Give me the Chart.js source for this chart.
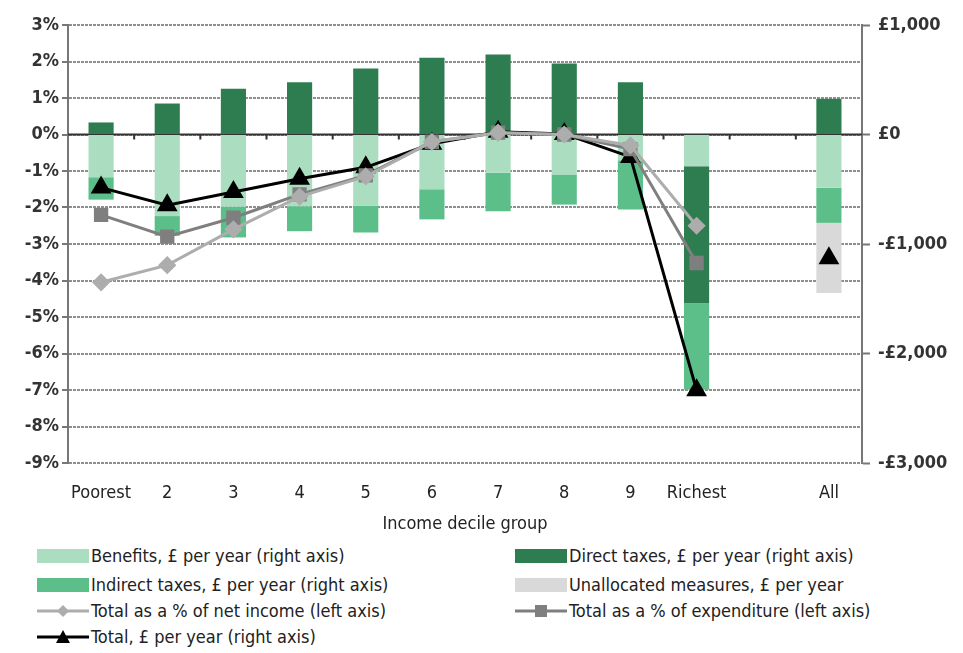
<!DOCTYPE html>
<html>
<head>
<meta charset="utf-8">
<script src="https://cdn.jsdelivr.net/npm/chart.js@4.4.0/dist/chart.umd.min.js"></script>
<style>
  body { margin: 0; background: #fff; width: 963px; height: 653px; overflow: hidden;
         font-family: 'Liberation Sans Narrow', 'DejaVu Sans Condensed', sans-serif; }
  #wrap { position: absolute; left: 0; top: 0; width: 963px; height: 545px; }
  .item { position: absolute; display: flex; align-items: center; font-size: 18px; color: #222; white-space: nowrap; line-height: 20px; }
  .item svg { margin-right: 2px; }
</style>
</head>
<body>
<div id="wrap"><canvas id="chart"></canvas></div>
<div id="legend"></div>
<script>
const categories = ['Poorest', '2', '3', '4', '5', '6', '7', '8', '9', 'Richest', '', 'All'];

// £ per year (right axis)
const benefits      = [-390, -745, -660, -655, -650, -500, -350, -365, -235, -290, null, -487];
const directTaxes   = [110, 283, 417, 478, 603, 700, 730, 648, 478, -1250, null, 326];
const indirectTaxes = [-205, -180, -280, -228, -245, -275, -350, -275, -450, -790, null, -320];
const unallocated   = [null, null, null, null, null, null, null, null, null, null, null, -640];
const totalPerYear  = [-485, -645, -525, -405, -300, -85, 25, 5, -205, -2335, null, -1130];

// % (left axis)
const pctNetIncome   = [-4.05, -3.58, -2.6, -1.7, -1.15, -0.2, 0.05, 0, -0.3, -2.5, null, null];
const pctExpenditure = [-2.2, -2.8, -2.28, -1.64, -1.12, -0.2, 0.05, 0, -0.4, -3.52, null, null];

const leftTicks = { min: -9, max: 3, step: 1 };
const rightTicks = { min: -3000, max: 1000, step: 1000 };

const font = "'Liberation Sans Narrow', 'DejaVu Sans Condensed', sans-serif";
Chart.defaults.font.family = font;
Chart.defaults.color = '#222';

const zeroLine = {
  id: 'zeroLine',
  beforeDatasetsDraw(chart) {
    const { ctx, chartArea: a, scales: { x, y } } = chart;
    const y0 = y.getPixelForValue(0);
    ctx.save();
    ctx.strokeStyle = '#333';
    ctx.lineWidth = 2;
    ctx.beginPath();
    ctx.moveTo(a.left, y0);
    ctx.lineTo(a.right, y0);
    for (let i = 1; i < categories.length; i++) {
      const xb = (x.getPixelForValue(i - 1) + x.getPixelForValue(i)) / 2;
      ctx.moveTo(xb, y0);
      ctx.lineTo(xb, y0 + 5);
    }
    ctx.stroke();
    ctx.restore();
  }
};

const bar = (label, data, color) => ({
  type: 'bar', label, data, backgroundColor: color, yAxisID: 'y1', stack: 'bars', order: 2,
  barPercentage: 0.38, categoryPercentage: 1, borderWidth: 0
});
const line = (label, data, color, style, radius, axis) => ({
  type: 'line', label, data, borderColor: color, backgroundColor: color, yAxisID: axis, order: 1,
  borderWidth: 3, pointStyle: style, pointRadius: radius, pointHoverRadius: radius, spanGaps: false, tension: 0
});

const chart = new Chart(document.getElementById('chart'), {
  data: {
    labels: categories,
    datasets: [
      bar('Benefits, £ per year (right axis)', benefits, '#abdec0'),
      bar('Direct taxes, £ per year (right axis)', directTaxes, '#2e7d50'),
      bar('Indirect taxes, £ per year (right axis)', indirectTaxes, '#5cbf89'),
      bar('Unallocated measures, £ per year', unallocated, '#d9d9d9'),
      line('Total as a % of net income (left axis)', pctNetIncome, '#adadad', 'rectRot', 7, 'y'),
      line('Total as a % of expenditure (left axis)', pctExpenditure, '#7f7f7f', 'rect', 8, 'y'),
      line('Total, £ per year (right axis)', totalPerYear, '#000000', 'triangle', 9, 'y1')
    ]
  },
  options: {
    responsive: true,
    maintainAspectRatio: false,
    animation: false,
    layout: { padding: { top: 25, bottom: 0, left: 0, right: 0 } },
    plugins: { legend: { display: false }, tooltip: { enabled: false } },
    scales: {
      x: {
        stacked: true,
        grid: { display: false, drawTicks: false },
        border: { display: false },
        ticks: { font: { size: 18 }, padding: 20, maxRotation: 0, autoSkip: false },
        title: { display: true, text: 'Income decile group', font: { size: 18 }, padding: { top: 0, bottom: 10 } },
        afterFit: s => { s.height = 82; }
      },
      y: {
        position: 'left',
        min: leftTicks.min, max: leftTicks.max,
        ticks: { stepSize: leftTicks.step, callback: v => v + '%', font: { size: 18, weight: 'bold' }, color: '#333', padding: 3 },
        grid: { color: '#8f8f8f', lineWidth: 2, tickLength: 6, tickColor: '#777', tickWidth: 2 },
        border: { display: true, color: '#777', width: 2, dash: [3, 1] },
        afterFit: s => { s.width = 68; }
      },
      y1: {
        position: 'right',
        stacked: true,
        min: rightTicks.min, max: rightTicks.max,
        ticks: {
          stepSize: rightTicks.step, font: { size: 18, weight: 'bold' }, color: '#333', padding: 8,
          callback: v => v === 0 ? '£0' : (v < 0 ? '-' : '') + '£' + Math.abs(v).toLocaleString('en-GB')
        },
        grid: { drawOnChartArea: false, tickLength: 8, tickColor: '#777', tickWidth: 2 },
        border: { display: true, color: '#777', width: 2 },
        afterFit: s => { s.width = 101; }
      }
    }
  },
  plugins: [zeroLine]
});

// two-column legend
const legendCols = [37, 515];
const legendRows = [556, 585, 611, 637];
const legend = document.getElementById('legend');
chart.data.datasets.forEach((ds, i) => {
  const col = i % 2, row = Math.floor(i / 2);
  const c = ds.backgroundColor;
  let mark;
  if (ds.type === 'bar') {
    mark = `<rect x="0" y="3" width="52" height="14" fill="${c}"/>`;
  } else {
    mark = `<line x1="0" y1="10" x2="52" y2="10" stroke="${c}" stroke-width="3"/>`;
    if (ds.pointStyle === 'rectRot') mark += `<polygon points="26,4 32,10 26,16 20,10" fill="${c}"/>`;
    else if (ds.pointStyle === 'rect') mark += `<rect x="20" y="4" width="12" height="12" fill="${c}"/>`;
    else mark += `<polygon points="26,3 33,16 19,16" fill="${c}"/>`;
  }
  const el = document.createElement('div');
  el.className = 'item';
  el.style.left = legendCols[col] + 'px';
  el.style.top = (legendRows[row] - 10) + 'px';
  el.innerHTML = `<svg width="52" height="20">${mark}</svg><span>${ds.label}</span>`;
  legend.appendChild(el);
});
</script>
</body>
</html>
